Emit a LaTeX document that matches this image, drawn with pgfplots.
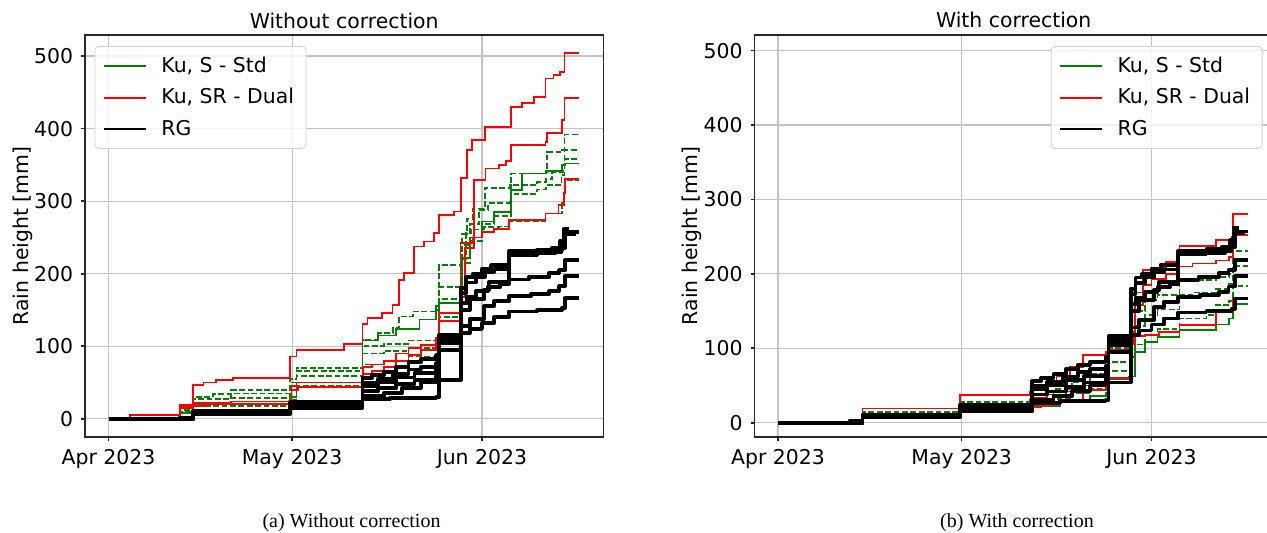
\documentclass[border=0pt]{standalone}
\usepackage{fontspec}
\setmainfont{DejaVu Sans}
\newfontfamily\capfont{Liberation Serif}
\usepackage{pgfplots}
\usepackage{pgfplotstable}
\pgfplotsset{compat=1.18}

\definecolor{mplgreen}{RGB}{0,128,0}
\definecolor{gridgray}{RGB}{196,196,196}
\definecolor{spine}{RGB}{40,40,40}
\definecolor{legframe}{RGB}{210,210,210}

% rain gauges (same in both panels), day since 1 Apr 2023 vs cumulative mm
\pgfplotstableread{
0 0
11.7 2
13.8 10
29.7 24
41.5 56
43 60
45 65
47 72
49 78
51 82
53.5 88
54 116
57.6 180
58.4 195
59.5 200
61 207
62.5 212
65.4 231
70 233
72.5 236
73.8 245
74.4 262
75.3 262
}\rgA
\pgfplotstableread{
0 0
11.7 2
13.8 11
29.7 22
41.5 50
44 55
46.5 62
49 68
51 72
53.5 77
54 113
57.6 173
58.4 188
60 196
61.5 202
63 206
65.4 226
70 228
73 232
74.1 240
74.6 257
76.8 257
}\rgB
\pgfplotstableread{
0 0
13.8 9
29.7 20
41.5 45
44 50
47 57
50 63
53.5 68
54 110
57.6 160
58.5 168
60 176
62 182
64 186
65.4 228
72 230
74 236
74.6 255
76.3 255
}\rgC
\pgfplotstableread{
0 0
13.8 8
29.7 18
41.5 38
44 42
47 48
50 54
53.5 59
54 95
57.6 150
59 165
61.4 178
62.2 189
65.4 192
68.7 196
72 201
73.6 205
74.6 219
76.8 219
}\rgD
\pgfplotstableread{
0 0
13.8 8
29.7 17
41.5 31
45 36
48 43
51 50
53.5 54
57.6 128
59 138
61.4 155
63 162
65.4 169
69 172
72 176
73.6 183
74.6 197
76.8 197
}\rgE
\pgfplotstableread{
0 0
13.8 7
29.7 15
41.5 27
46 29
53.5 30
54 104
57.6 118
59 124
61 132
63 140
65.4 148
70 150
74.1 153
74.6 167
76.8 167
}\rgF

\pgfplotsset{
  rainax/.style={
    scale only axis, width=259.2pt, height=201pt, anchor=south west,
    xmin=-3.85, xmax=80.85,
    xtick={0,30,61}, xticklabels={Apr 2023,May 2023,Jun 2023},
    ytick={0,100,...,500},
    /pgf/number format/assume math mode=true,
    grid=major, major grid style={gridgray, line width=0.6pt},
    axis line style={spine, line width=0.8pt},
    tick style={spine, line width=0.8pt},
    major tick length=1.8pt, tick align=outside,
    xtick pos=bottom, ytick pos=left,
    xticklabel style={anchor=base, yshift=-12.2pt},
    yticklabel style={anchor=east, inner sep=0pt, xshift=-4pt},
    ylabel={Rain height [mm]},
    every axis y label/.style={at={(axis description cs:-0.1206,0.5)}, rotate=90, anchor=center},
    every axis title/.style={at={(axis description cs:0.5,1.0174)}, anchor=base},
    legend cell align=left,
    legend image code/.code={\draw[##1] (0pt,0pt) -- (21pt,0pt);},
    legend style={draw=legframe, rounded corners=2pt, fill=white,
      fill opacity=0.8, text opacity=1, inner xsep=4pt, inner ysep=3.2pt,
      row sep=2.5pt, column sep=5.2pt},
  },
  ku/.style={mplgreen, line width=0.9pt, const plot, forget plot},
  kud/.style={mplgreen, line width=0.9pt, const plot, forget plot, dash pattern=on 2.9pt off 1.3pt},
  sr/.style={red, line width=0.9pt, const plot, forget plot},
  rg/.style={black, line width=1.9pt, const plot, forget plot, line join=round},
}

\begin{document}
\fontsize{10.2pt}{12pt}\selectfont
\begin{tikzpicture}[font=\fontsize{10.2pt}{12pt}\selectfont]
\path[use as bounding box, clip] (0,0) rectangle (633.5pt,266.5pt);

% ---------- (a) without correction
\begin{axis}[rainax, at={(42.5pt,48pt)}, ymin=-25, ymax=529,
  title={Without correction},
  legend style={at={(axis description cs:0,1)}, anchor=north west, xshift=4.8pt, yshift=-5.5pt}]
\addlegendimage{mplgreen, line width=0.9pt}\addlegendentry{Ku, S - Std}
\addlegendimage{red, line width=0.9pt}\addlegendentry{Ku, SR - Dual}
\addlegendimage{black, line width=1pt}\addlegendentry{RG}

\addplot[kud] coordinates {(0,0) (3.5,2) (11.7,12) (13.8,30) (17,34) (20,40) (29.7,55) (30.7,70) (41.5,109) (44,118) (46.5,125) (47.5,141) (49.7,148) (53.5,150) (54,212) (57.5,218) (57.8,255) (58.5,275) (59.5,290) (61.5,318) (65.5,322) (65.7,338) (71.5,340) (71.7,368) (74.1,371) (74.5,392) (76.8,392)};
\addplot[kud] coordinates {(0,0) (11.7,10) (13.8,27) (20,35) (29.7,50) (30.7,66) (41.5,100) (45,103) (49,108) (53.5,110) (54,182) (57.5,186) (57.8,240) (59,268) (60.5,288) (62,298) (65.5,303) (65.7,322) (70,326) (71.5,330) (72.5,340) (74.2,345) (74.5,370) (76.8,370)};
\addplot[kud] coordinates {(0,0) (11.7,9) (13.8,22) (20,29) (29.7,40) (30.7,59) (41.5,90) (45,94) (49,98) (53.5,100) (54,165) (57.5,170) (57.8,215) (59,245) (61,268) (63,280) (65.7,310) (70,316) (71.5,322) (74,336) (74.5,358) (76.8,358)};
\addplot[ku] coordinates {(0,0) (11.7,8) (13.8,20) (29.7,30) (30.7,50) (41.5,108) (44,115) (47,124) (50.8,137) (53.5,156) (54,160) (57.6,165) (57.8,222) (59,250) (61,272) (63,285) (65.7,315) (67.6,338) (71.5,342) (74.1,350) (74.6,352) (76.8,352)};
\addplot[kud] coordinates {(0,0) (11.7,8) (13.8,18) (29.7,26) (30.7,45) (41.5,75) (45,80) (49,86) (53.5,90) (54,140) (57.5,145) (57.8,220) (58.4,256) (59.2,261) (61.4,264) (63.8,265) (65.4,272) (71.4,283) (74.1,297) (74.5,329) (76.8,329)};

\addplot[sr] coordinates {(0,0) (3.5,5) (11.7,19.7) (13.8,47) (15.5,50) (17.5,53) (20.3,56.4) (29.6,86) (30.7,95.4) (38.5,103.6) (41.5,131) (42.3,139) (44.7,146) (46.4,157) (47.5,191.7) (48.3,201) (49.9,237.6) (51.6,244.4) (53.2,256) (54.0,281) (56.5,285.7) (57.6,331.7) (58.6,370.6) (59.4,384) (61.5,402) (65.7,430) (67.6,435) (69.5,444) (71.4,469) (72.7,473.8) (73.8,478) (74.5,503.7) (76.8,503.7)};
\addplot[sr] coordinates {(0,0) (3.5,2) (11.7,18) (13.8,22) (20,24) (29.6,26) (29.9,45) (30.7,50) (41.5,52) (41.6,72) (43,75) (45,80) (47,90) (49,98) (51,102) (53.5,104) (54,135) (57.5,168) (58.3,235) (59.7,329) (61.6,345) (63.8,350) (64.9,355) (65.7,377) (71.4,382) (71.7,394) (74.1,412) (74.5,442) (76.8,442)};
\addplot[sr] coordinates {(0,0) (11.7,15) (13.8,18) (16,20) (29.6,22) (29.9,40) (31,44) (41.5,46) (41.6,62) (43,66) (45,72) (47,80) (49,88) (51,95) (53.5,112) (54,146) (57.3,146) (57.5,242) (59.5,250) (61,258) (63,262) (65.4,274) (71.4,283) (73.5,295) (74.4,311) (74.6,330) (76.8,330)};

\addplot[rg] table {\rgA};
\addplot[rg] table {\rgB};
\addplot[rg] table {\rgC};
\addplot[rg] table {\rgD};
\addplot[rg] table {\rgE};
\addplot[rg] table {\rgF};
\end{axis}

% ---------- (b) with correction
\begin{axis}[rainax, at={(377.25pt,48pt)}, ymin=-19.2, ymax=521,
  title={With correction},
  legend style={at={(axis description cs:1,1)}, anchor=north east, xshift=-5.2pt, yshift=-5.5pt}]
\addlegendimage{mplgreen, line width=0.9pt}\addlegendentry{Ku, S - Std}
\addlegendimage{red, line width=0.9pt}\addlegendentry{Ku, SR - Dual}
\addlegendimage{black, line width=1pt}\addlegendentry{RG}

\addplot[kud] coordinates {(0,0) (11.7,2) (13.8,14) (29.5,16) (29.7,28) (41.2,32) (41.5,38) (45,45) (48,55) (51,65) (53.6,70) (53.9,100) (57.5,105) (58.3,150) (60,165) (62,172) (65.6,190) (67.7,192) (71.5,196) (73.7,200) (74.3,231) (76.8,231)};
\addplot[kud] coordinates {(0,0) (11.7,2) (13.8,12) (29.5,14) (29.7,24) (41.5,32) (45,38) (48,46) (51,55) (53.6,60) (53.9,82) (57.5,88) (58.3,130) (60,145) (62,152) (65.6,172) (67.7,175) (71.5,180) (73.7,186) (74.3,211) (76.8,211)};
\addplot[kud] coordinates {(0,0) (11.7,2) (13.8,10) (29.5,12) (29.7,20) (41.5,26) (45,32) (48,40) (51,46) (53.6,50) (53.9,70) (57.5,75) (58.3,105) (60,118) (62,126) (65.6,140) (70,145) (71.5,158) (73.7,164) (74.3,184) (76.8,184)};
\addplot[ku] coordinates {(0,0) (11.7,1) (13.8,8) (29.5,10) (29.7,18) (41.5,22) (46,28) (51,36) (53.6,40) (53.9,58) (57.5,62) (58.3,95) (60,108) (62,115) (65.6,125) (71.5,132) (73.7,140) (74.3,160) (76.8,160)};

\addplot[sr] coordinates {(0,0) (11.7,2) (13.8,19) (29.5,21) (29.7,37) (41.2,42) (41.5,44) (43,50) (45.5,62) (47.7,75) (49.8,91) (53.6,95) (53.9,116) (57.5,122) (58.3,175) (59.6,205) (61,208) (63.4,216) (65.3,219) (65.6,237) (71.5,240) (71.6,246) (74.2,250) (74.3,280) (76.8,280)};
\addplot[sr] coordinates {(0,0) (11.7,2) (13.8,8) (29.5,10) (29.7,25) (41.2,30) (41.5,34) (44,38) (47,42) (49.8,50) (53.6,55) (53.9,98) (57.5,105) (58.3,158) (59.6,185) (61,193) (63.4,200) (65.3,203) (65.6,210) (67.7,214) (71.5,218) (73.7,223) (74.3,252) (76.8,252)};
\addplot[sr] coordinates {(0,0) (11.7,1) (13.8,6) (29.5,8) (29.7,18) (41.2,21.5) (43,24) (46,30) (49.8,44) (53.6,48) (53.9,60) (57.3,62) (57.6,105) (58.2,116) (60,118) (62.3,122) (65.6,131) (71.5,131) (71.6,149) (73.7,150) (74.3,167) (76.8,167)};

\addplot[rg] table {\rgA};
\addplot[rg] table {\rgB};
\addplot[rg] table {\rgC};
\addplot[rg] table {\rgD};
\addplot[rg] table {\rgE};
\addplot[rg] table {\rgF};
\end{axis}

\node[font=\capfont\fontsize{10pt}{12pt}\selectfont, anchor=base] at (175.75pt,2.5pt) {(a) Without correction};
\node[font=\capfont\fontsize{10pt}{12pt}\selectfont, anchor=base] at (508.5pt,2.5pt) {(b) With correction};
\end{tikzpicture}
\end{document}
